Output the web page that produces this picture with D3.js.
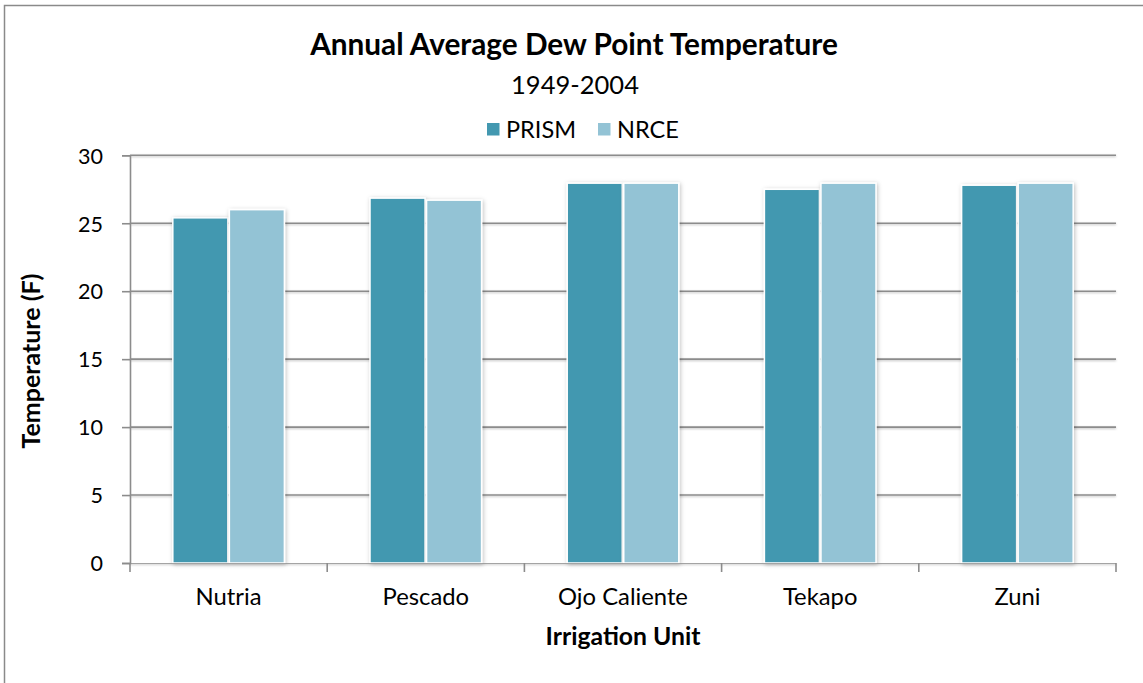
<!DOCTYPE html>
<html><head><meta charset="utf-8">
<script src="https://cdn.jsdelivr.net/npm/d3@7"></script>
<style>body{margin:0;background:#fff}svg{display:block}text{font-family:Lato,"Open Sans",sans-serif;fill:#000}</style>
</head><body><svg id="c" width="1143" height="683"></svg>
<script>
const categories = ["Nutria", "Pescado", "Ojo Caliente", "Tekapo", "Zuni"];
const seriesNames = ["PRISM", "NRCE"];
const prism = [25.4, 26.85, 27.95, 27.5, 27.8];
const nrce = [26.0, 26.7, 27.95, 27.95, 27.95];
const yTicks = [0, 5, 10, 15, 20, 25, 30];
const colors = ["#4398B0", "#93C3D5"];

const svg = d3.select("#c");
const m = {left: 130, right: 1116, top: 155.3, bottom: 563};

function fitScale(sel, w) {
  const cw = sel.node().getComputedTextLength();
  return w / cw;
}
function fit(sel, w) {
  const fs = +sel.attr("font-size");
  sel.attr("font-size", fs * fitScale(sel, w));
}

// chart border
svg.append("rect").attr("x", 4.5).attr("y", 5.5).attr("width", 1160).attr("height", 700)
  .attr("fill", "none").attr("stroke", "#8a8a8a").attr("stroke-width", 1.5);

const defs = svg.append("defs");
const f = defs.append("filter").attr("id", "sh").attr("x", "-20%").attr("y", "-20%").attr("width", "140%").attr("height", "140%");
f.append("feDropShadow").attr("dx", 1).attr("dy", 1).attr("stdDeviation", 2).attr("flood-color", "#000").attr("flood-opacity", 0.25);
const g2 = defs.append("filter").attr("id", "gs").attr("filterUnits", "userSpaceOnUse")
  .attr("x", 0).attr("y", 0).attr("width", 1143).attr("height", 683);
g2.append("feDropShadow").attr("dx", 0).attr("dy", 1).attr("stdDeviation", 0.8).attr("flood-color", "#000").attr("flood-opacity", 0.25);

const x = d3.scaleBand().domain(categories).range([m.left, m.right]);
const xs = d3.scaleBand().domain(seriesNames).range([0, x.bandwidth()]).paddingInner(0.027).paddingOuter(0.757);
const y = d3.scaleLinear().domain([0, 30]).range([m.bottom, m.top]);

// gridlines
svg.append("g").selectAll("line").data(yTicks.filter(d => d > 0)).join("line")
  .attr("x1", m.left).attr("x2", m.right).attr("y1", d => y(d)).attr("y2", d => y(d))
  .attr("stroke", "#8c8c8c").attr("stroke-width", 1.6).attr("filter", "url(#gs)");

// y axis
const ya = svg.append("g").attr("transform", `translate(${m.left},0)`)
  .call(d3.axisLeft(y).tickValues(yTicks).tickSize(8).tickPadding(19));
ya.select(".domain").attr("stroke", "#8c8c8c").attr("stroke-width", 1.6);
ya.selectAll(".tick line").attr("stroke", "#8c8c8c").attr("stroke-width", 1.6);
ya.selectAll("text").attr("font-size", 20).attr("font-family", "Lato,sans-serif").attr("dy", "0.36em");
{
  const t30 = ya.selectAll("text").filter(d => d === 30);
  const k = fitScale(t30, 25);
  ya.selectAll("text").attr("font-size", 20 * k);
}

// bars
const data = categories.map((c, i) => ({c, vals: [prism[i], nrce[i]]}));
const gg = svg.append("g").selectAll("g").data(data).join("g")
  .attr("transform", d => `translate(${x(d.c)},0)`);
gg.selectAll("rect").data(d => d.vals.map((v, j) => ({s: seriesNames[j], v, j}))).join("rect")
  .attr("x", d => xs(d.s)).attr("width", xs.bandwidth())
  .attr("y", d => y(d.v)).attr("height", d => y(0) - y(d.v))
  .attr("fill", d => colors[d.j]).attr("stroke", "#fff").attr("stroke-width", 1.5)
  .attr("filter", "url(#sh)");

// x axis
const xa = svg.append("g").attr("transform", `translate(0,${m.bottom})`);
xa.append("line").attr("x1", m.left).attr("x2", m.right).attr("stroke", "#8c8c8c").attr("stroke-width", 1.6).attr("filter", "url(#gs)");
xa.selectAll("line.t").data(categories.map(c => x(c)).concat([m.right])).join("line").attr("class", "t")
  .attr("x1", d => d).attr("x2", d => d).attr("y1", 0).attr("y2", 9).attr("stroke", "#8c8c8c").attr("stroke-width", 1.6);
const xl = xa.selectAll("text").data(categories).join("text")
  .attr("x", d => x(d) + x.bandwidth() / 2).attr("y", 42).attr("text-anchor", "middle")
  .attr("font-size", 20).text(d => d);
{
  const k = fitScale(xl.filter(d => d === "Ojo Caliente"), 130);
  xl.attr("font-size", 20 * k);
}

// titles
const t1 = svg.append("text").attr("x", 574).attr("y", 55).attr("text-anchor", "middle")
  .attr("font-weight", "bold").attr("font-size", 25).text("Annual Average Dew Point Temperature");
fit(t1, 528);
const t2 = svg.append("text").attr("x", 575).attr("y", 94).attr("text-anchor", "middle")
  .attr("font-size", 25).text("1949-2004");
fit(t2, 128);

// axis titles
const xt = svg.append("text").attr("x", 623).attr("y", 645).attr("text-anchor", "middle")
  .attr("font-weight", "bold").attr("font-size", 20).text("Irrigation Unit");
fit(xt, 155);
const yt = svg.append("text").attr("transform", "translate(40,361) rotate(-90)").attr("text-anchor", "middle")
  .attr("font-weight", "bold").attr("font-size", 20).text("Temperature (F)");
fit(yt, 175);

// legend
const legX = [487, 598];
const lg = svg.append("g").selectAll("g").data(seriesNames).join("g")
  .attr("transform", (d, i) => `translate(${legX[i]},123)`);
lg.append("rect").attr("width", 12.5).attr("height", 12.5).attr("fill", (d, i) => colors[i]);
const lt = lg.append("text").attr("x", 19).attr("y", 6.5).attr("dy", "0.36em").attr("font-size", 20).text(d => d);
{
  const k = fitScale(lt.filter(d => d === "PRISM"), 70);
  lt.attr("font-size", 20 * k);
}
</script></body></html>
